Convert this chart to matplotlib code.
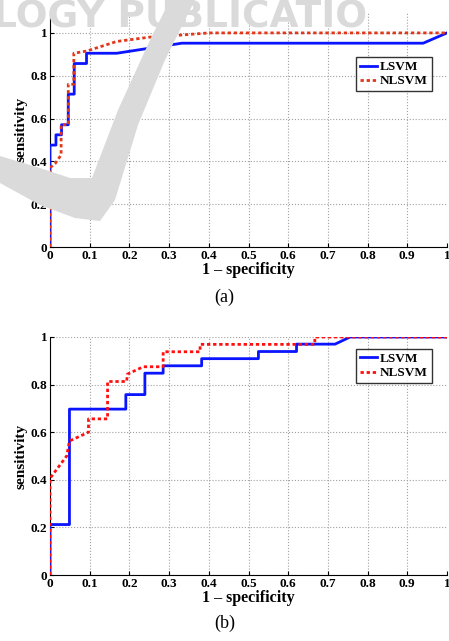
import matplotlib
matplotlib.use('Agg')
import matplotlib.pyplot as plt
from matplotlib.patches import Polygon

# ROC curves: (1 - specificity, sensitivity)
a_lsvm_x = [0, 0, 0.015, 0.015, 0.029, 0.029, 0.046, 0.046, 0.061, 0.061, 0.092, 0.092, 0.168, 0.332, 0.94, 1.0]
a_lsvm_y = [0, 0.476, 0.476, 0.524, 0.524, 0.571, 0.571, 0.714, 0.714, 0.857, 0.857, 0.905, 0.905, 0.952, 0.952, 1.0]
a_nlsvm_x = [0, 0, 0.013, 0.028, 0.028, 0.046, 0.046, 0.06, 0.06, 0.092, 0.168, 0.25, 0.33, 0.4, 1.0]
a_nlsvm_y = [0, 0.37, 0.39, 0.43, 0.571, 0.571, 0.76, 0.76, 0.905, 0.915, 0.96, 0.98, 0.99, 1.0, 1.0]

b_lsvm_x = [0, 0, 0.049, 0.049, 0.191, 0.191, 0.239, 0.239, 0.285, 0.285, 0.382, 0.382, 0.525, 0.525, 0.621, 0.621, 0.718, 0.756, 1.0]
b_lsvm_y = [0, 0.212, 0.212, 0.697, 0.697, 0.758, 0.758, 0.848, 0.848, 0.879, 0.879, 0.909, 0.909, 0.939, 0.939, 0.97, 0.97, 1.0, 1.0]
b_nlsvm_x = [0, 0, 0.042, 0.049, 0.097, 0.097, 0.145, 0.145, 0.193, 0.195, 0.235, 0.285, 0.285, 0.378, 0.378, 0.667, 0.667, 1.0]
b_nlsvm_y = [0, 0.406, 0.5, 0.563, 0.6, 0.656, 0.656, 0.813, 0.813, 0.844, 0.875, 0.875, 0.938, 0.938, 0.969, 0.969, 1.0, 1.0]

xticks = [0, 0.1, 0.2, 0.3, 0.4, 0.5, 0.6, 0.7, 0.8, 0.9, 1]
xticklabels = ['0', '0.1', '0.2', '0.3', '0.4', '0.5', '0.6', '0.7', '0.8', '0.9', '1']
yticks = [0, 0.2, 0.4, 0.6, 0.8, 1]
yticklabels = ['0', '0.2', '0.4', '0.6', '0.8', '1']

serif = 'Liberation Serif'
W, H = 449, 641

fig = plt.figure(figsize=(W / 100, H / 100), dpi=100)

# faint publisher watermark behind the top panel
swoosh = [(0, 156), (40, 168), (70, 178), (92, 178), (118, 110), (150, 40), (170, 0),
          (195, 0), (165, 60), (138, 125), (115, 200), (100, 221), (75, 218), (40, 205), (0, 183)]
fig.patches.append(Polygon([(x / W, 1 - y / H) for x, y in swoosh], closed=True,
                           transform=fig.transFigure, facecolor='#dadada',
                           edgecolor='none', zorder=0))
fig.text(-0.015, 1 - 18 / H, 'LOGY PUBLICATIO', fontsize=27, color='#dadada',
         fontweight='bold', family='DejaVu Sans', va='center', ha='left', zorder=0)


def roc_panel(rect, ytop, lx, ly, nx, ny, red, leg_anchor):
    ax = fig.add_axes(rect)
    ax.patch.set_alpha(0)
    ax.plot(lx, ly, color='#0a14ff', lw=2.0, label='LSVM', zorder=3)
    ax.plot(nx, ny, color=red, lw=2.0, ls=(0, (1.2, 1.0)), label='NLSVM', zorder=4)
    ax.set_xlim(0, 1)
    ax.set_ylim(0, ytop)
    ax.set_xticks(xticks)
    ax.set_xticklabels(xticklabels)
    ax.set_yticks(yticks)
    ax.set_yticklabels(yticklabels)
    for t in ax.get_xticklabels() + ax.get_yticklabels():
        t.set_family(serif)
        t.set_fontweight('bold')
        t.set_fontsize(9.5)
    ax.tick_params(direction='in', length=3, width=0.8, pad=2)
    ax.spines['top'].set_visible(False)
    ax.spines['right'].set_visible(False)
    ax.grid(True, ls=':', color='#a0a0a0', lw=0.8)
    ax.set_axisbelow(True)
    ax.set_xlabel('1 \u2013 specificity', family=serif, fontweight='bold', fontsize=11.5, labelpad=0)
    ax.set_ylabel('sensitivity', family=serif, fontweight='bold', fontsize=11, labelpad=2)
    leg = ax.legend(loc='upper right', bbox_to_anchor=leg_anchor, fancybox=False,
                    prop={'family': serif, 'weight': 'bold', 'size': 9.5},
                    handlelength=1.3, handletextpad=0.2, borderpad=0.3,
                    labelspacing=0.15, borderaxespad=0)
    leg.get_frame().set_edgecolor('black')
    leg.get_frame().set_linewidth(1.0)
    return ax


roc_panel([50 / W, 1 - 247 / H, 397 / W, 235.5 / H], 1.1,
          a_lsvm_x, a_lsvm_y, a_nlsvm_x, a_nlsvm_y, '#e2381a', (0.962, 0.807))
roc_panel([50 / W, 1 - 575 / H, 397 / W, 238 / H], 1.0,
          b_lsvm_x, b_lsvm_y, b_nlsvm_x, b_nlsvm_y, '#ff1010', (0.962, 0.95))

fig.text(0.5, 1 - 297 / H, '(a)', family=serif, fontsize=13, ha='center', va='center')
fig.text(0.5, 1 - 623 / H, '(b)', family=serif, fontsize=13, ha='center', va='center')

fig.savefig('out.png', dpi=100)
